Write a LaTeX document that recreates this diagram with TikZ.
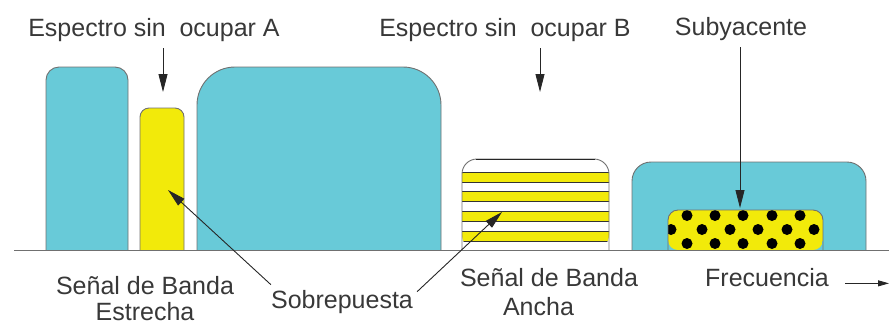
\documentclass[tikz,border=0pt]{standalone}
\usepackage[svgnames]{xcolor}
\usepackage{fontspec}
\setmainfont{Liberation Sans}
\usetikzlibrary{
  arrows.meta,
  positioning}

\definecolor{chanblue}{RGB}{104,202,216}
\definecolor{sigyellow}{RGB}{242,234,10}
\definecolor{edgegray}{RGB}{112,112,112}

\begin{document}
\begin{tikzpicture}[
  x=1pt,
  y=-1pt,
  lbl/.style={
    font=\fontsize{25}{26}\selectfont,
    text=black!78,
    inner sep=0pt},
  pointer/.style={
    draw=black!85,
    line width=0.9pt,
    -{Triangle[length=18pt,width=9pt]}},
  channel/.style={
    fill=chanblue,
    draw=edgegray,
    line width=0.9pt},
  sigedge/.style={
    draw=edgegray,
    line width=0.9pt}]
\useasboundingbox (0,0) rectangle (889,325);

% occupied channels
\path[channel] (46,250) [rounded corners=13pt] -- (46,67) -- (128,67) -- (128,250);
\path[channel] (197,250) [rounded corners=38pt] -- (197,67) -- (441,67) -- (441,250);
\path[channel] (632,250) [rounded corners=19pt] -- (632,162) -- (866,162) -- (866,250);

% narrow band signal
\path[sigedge, fill=sigyellow] (140,250) [rounded corners=9pt] -- (140,108) -- (184,108) -- (184,250);

% wide band signal
\begin{scope}
\clip (462,250) [rounded corners=15pt] -- (462,159) -- (609,159) -- (609,250) -- cycle;
\fill[white] (462,159) rectangle (609,250);
\foreach \y in {172,191.5,211,231} {
  \path[fill=sigyellow, draw=black!80, line width=0.8pt]
    (450,\y) rectangle (620,\y+10);
}
\end{scope}
\path[sigedge] (462,250) [rounded corners=15pt] -- (462,159) -- (609,159) -- (609,250);
\draw[black!85, line width=1.4pt] (476,159.5) -- (595,159.5);

% underlay signal
\begin{scope}
\clip (668,250) [rounded corners=10pt] -- (668,210) -- (823,210) -- (823,250) -- cycle;
\fill[sigyellow] (668,210) rectangle (823,250);
\foreach \x in {687,715,743,772,800} {
  \fill[black] (\x,215.5) circle[radius=5.5pt];
  \fill[black] (\x,243.5) circle[radius=5.5pt];
}
\foreach \x in {671,702,730,758,787,814} {
  \fill[black] (\x,229.5) circle[radius=5.5pt];
}
\end{scope}
\path[sigedge] (668,250) [rounded corners=10pt] -- (668,210) -- (823,210) -- (823,250);

% frequency axis
\draw[edgegray, line width=1pt] (14,250) -- (889,250);

% labels
\node[lbl, anchor=base] (specA) at (154,36) {Espectro sin\hspace{0.55em}ocupar A};
\node[lbl, anchor=base] (specB) at (505,36) {Espectro sin\hspace{0.55em}ocupar B};
\node[lbl, anchor=base] (under) at (741,35) {Subyacente};
\node[lbl, anchor=north, align=center] (narrow) at (145,276) {Señal de Banda\\Estrecha};
\node[lbl, anchor=north, align=center, font=\fontsize{25}{29}\selectfont] (wide) at (549,268) {Señal de Banda\\\hspace*{-21pt}Ancha};
\node[lbl, anchor=base] (overlay) at (342,308) {Sobrepuesta};
\node[lbl, anchor=base] (freq) at (767,286) {Frecuencia};

% arrow targets
\coordinate (tipA) at (163,92);
\coordinate (tipB) at (540,92);
\coordinate (tipU) at (740,208);
\coordinate (tipN) at (168,190);
\coordinate (tipW) at (502,212);
\coordinate (freqEnd) at (889,280);

\draw[pointer, shorten <=7pt] (specA.south -| tipA) -- (tipA);
\draw[pointer, shorten <=7pt] (specB.south -| tipB) -- (tipB);
\draw[pointer, shorten <=7pt] (under.south -| tipU) -- (tipU);
\draw[pointer] ([shift={(0pt,5pt)}]overlay.north west) -- (tipN);
\draw[pointer] ([shift={(4pt,-2pt)}]overlay.north east) -- (tipW);
\draw[pointer, -{Triangle[length=11pt,width=6pt]}, shorten <=16pt] (freq.mid east) -- (freq.mid east -| freqEnd);
\end{tikzpicture}
\end{document}
